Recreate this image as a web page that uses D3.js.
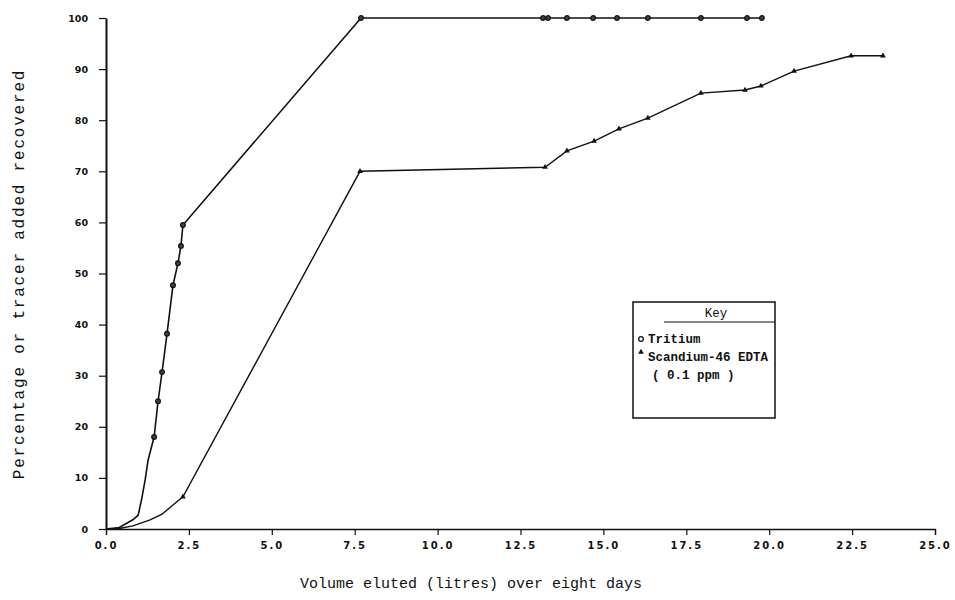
<!DOCTYPE html>
<html>
<head>
<meta charset="utf-8">
<script src="https://cdn.jsdelivr.net/npm/d3@7"></script>
<style>
  body { margin: 0; background: #fff; }
  .tick text { font-family: "DejaVu Sans", sans-serif; font-weight: bold; fill: #111; }
  .mono { font-family: "Liberation Mono", "DejaVu Sans Mono", monospace; fill: #111; }
</style>
</head>
<body>
<div id="chart"></div>
<script>
// Data
var xTicks = [0, 2.5, 5, 7.5, 10, 12.5, 15, 17.5, 20, 22.5, 25];
var yTicks = [0, 10, 20, 30, 40, 50, 60, 70, 80, 90, 100];

// Tritium (open circles) - volume eluted (l), % recovered
var tritiumX = [0, 0.4, 0.81, 0.97, 1.08, 1.18, 1.27, 1.45, 1.57, 1.69, 1.84, 2.02, 2.17, 2.26, 2.32, 7.69, 13.18, 13.33, 13.9, 14.69, 15.41, 16.34, 17.94, 19.33, 19.78];
var tritiumY = [0, 0.3, 1.8, 2.7, 6, 9.6, 13.5, 18, 25, 30.7, 38.2, 47.7, 52, 55.4, 59.5, 100, 100, 100, 100, 100, 100, 100, 100, 100, 100];
var tritiumMarkFrom = 7; // first sampled point shown with a marker

// Scandium-46 EDTA (triangles)
var scandiumX = [0, 0.4, 0.81, 1.33, 1.69, 2.02, 2.32, 7.66, 13.24, 13.9, 14.72, 15.47, 16.34, 17.94, 19.27, 19.75, 20.75, 22.47, 23.43];
var scandiumY = [0, 0.1, 0.6, 1.8, 2.9, 4.7, 6.3, 70, 70.8, 74, 75.9, 78.3, 80.4, 85.3, 85.9, 86.7, 89.6, 92.6, 92.6];
var scandiumMarkFrom = 6;

var legendLabels = ["Tritium", "Scandium-46 EDTA", "( 0.1 ppm )"];

var svgWidth = 955;
var svgHeight = 600;
var margin = { top: 18, right: 20, bottom: 71, left: 106 };
var width = svgWidth - margin.left - margin.right;
var height = svgHeight - margin.top - margin.bottom;

var svg = d3.select("#chart").append("svg")
  .attr("width", svgWidth)
  .attr("height", svgHeight);

var chartGroup = svg.append("g")
  .attr("transform", `translate(${margin.left}, ${margin.top})`);

var xScale = d3.scaleLinear().domain([0, 25]).range([0, 829]);
var yScale = d3.scaleLinear().domain([0, 100]).range([height, 0]);

// x axis
var xAxis = chartGroup.append("g")
  .attr("transform", `translate(0, ${height})`)
  .call(d3.axisBottom(xScale).tickValues(xTicks).tickSize(6).tickPadding(7)
    .tickFormat(d => d3.format(".1f")(d)));
xAxis.select(".domain").attr("stroke", "#111").attr("stroke-width", 1.3);
xAxis.selectAll(".tick line").attr("stroke", "#111").attr("stroke-width", 1.2);
xAxis.selectAll(".tick text").attr("font-size", 10).attr("letter-spacing", "2px");

// y axis
var yAxis = chartGroup.append("g")
  .call(d3.axisLeft(yScale).tickValues(yTicks).tickSize(7).tickSizeOuter(0).tickPadding(11));
yAxis.select(".domain").attr("stroke", "#111").attr("stroke-width", 2);
yAxis.selectAll(".tick line").attr("stroke", "#111").attr("stroke-width", 1.2);
yAxis.selectAll(".tick text").attr("font-size", 9.5);

// lines
var line = d3.line()
  .x(d => xScale(d[0]))
  .y(d => yScale(d[1]));

var tritium = tritiumX.map((x, i) => [x, tritiumY[i]]);
var scandium = scandiumX.map((x, i) => [x, scandiumY[i]]);

chartGroup.append("path")
  .datum(tritium)
  .attr("d", line)
  .attr("fill", "none")
  .attr("stroke", "#111")
  .attr("stroke-width", 1.6);

chartGroup.append("path")
  .datum(scandium)
  .attr("d", line)
  .attr("fill", "none")
  .attr("stroke", "#111")
  .attr("stroke-width", 1.4);

// markers
chartGroup.selectAll("circle.tr")
  .data(tritium.slice(tritiumMarkFrom))
  .enter()
  .append("circle")
  .attr("class", "tr")
  .attr("cx", d => xScale(d[0]))
  .attr("cy", d => yScale(d[1]))
  .attr("r", 2.3)
  .attr("fill", "#444")
  .attr("stroke", "#111")
  .attr("stroke-width", 1.3);

var tri = d3.symbol().type(d3.symbolTriangle).size(14);
chartGroup.selectAll("path.sc")
  .data(scandium.slice(scandiumMarkFrom))
  .enter()
  .append("path")
  .attr("class", "sc")
  .attr("d", tri)
  .attr("transform", d => `translate(${xScale(d[0])}, ${yScale(d[1])})`)
  .attr("fill", "#111");

// axis titles
svg.append("text")
  .attr("class", "mono")
  .attr("x", 471)
  .attr("y", 588)
  .attr("text-anchor", "middle")
  .attr("font-size", 15)
  .text("Volume eluted (litres) over eight days");

svg.append("text")
  .attr("class", "mono")
  .attr("transform", "rotate(-90)")
  .attr("x", -274)
  .attr("y", 24)
  .attr("text-anchor", "middle")
  .attr("font-size", 16)
  .attr("letter-spacing", "1.8px")
  .text("Percentage or tracer added recovered");

// legend
var legend = svg.append("g");
legend.append("rect")
  .attr("x", 633).attr("y", 302)
  .attr("width", 142).attr("height", 116)
  .attr("fill", "none")
  .attr("stroke", "#111")
  .attr("stroke-width", 1.5);
legend.append("text")
  .attr("class", "mono")
  .attr("x", 716).attr("y", 317)
  .attr("text-anchor", "middle")
  .attr("font-size", 12.5)
  .text("Key");
legend.append("line")
  .attr("x1", 664).attr("x2", 775)
  .attr("y1", 322).attr("y2", 322)
  .attr("stroke", "#111").attr("stroke-width", 1.2);
legend.append("circle")
  .attr("cx", 641).attr("cy", 339).attr("r", 2.3)
  .attr("fill", "none").attr("stroke", "#111").attr("stroke-width", 1.3);
legend.append("path")
  .attr("d", tri)
  .attr("transform", "translate(641, 352)")
  .attr("fill", "#111");
legend.selectAll("text.item")
  .data(legendLabels)
  .enter()
  .append("text")
  .attr("class", "mono item")
  .attr("x", (d, i) => i === 2 ? 652 : 648)
  .attr("y", (d, i) => 343 + i * 18)
  .attr("font-size", 12.5)
  .attr("font-weight", "bold")
  .text(d => d);
</script>
</body>
</html>
